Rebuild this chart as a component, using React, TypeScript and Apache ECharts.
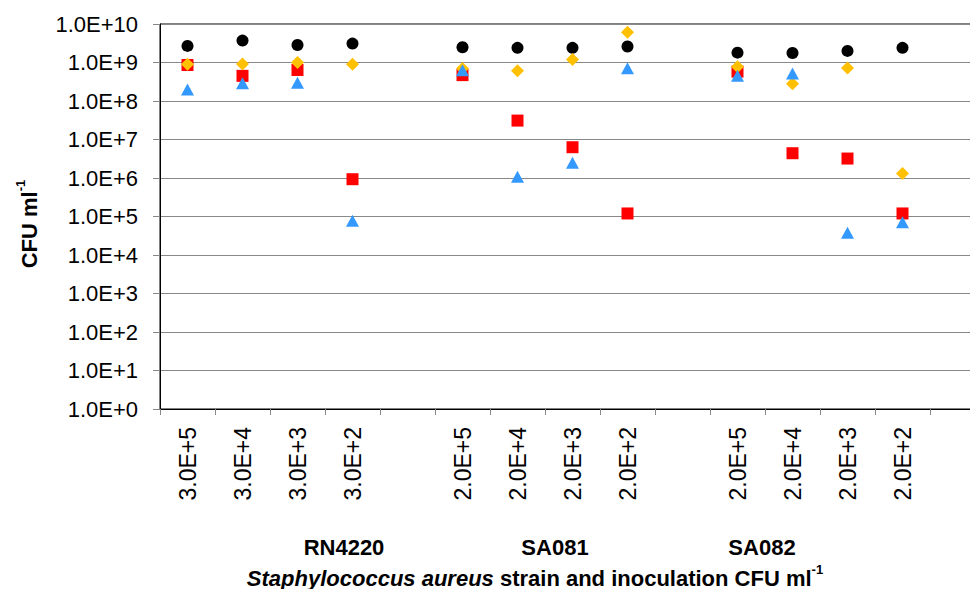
import React, { useEffect, useRef } from "react";
import * as echarts from "echarts";

const categories = ["3.0E+5", "3.0E+4", "3.0E+3", "3.0E+2", "", "2.0E+5", "2.0E+4", "2.0E+3", "2.0E+2", "", "2.0E+5", "2.0E+4", "2.0E+3", "2.0E+2", ""];
const circleValues = [2.7e9, 3.7e9, 2.85e9, 3.1e9, null, 2.5e9, 2.4e9, 2.4e9, 2.6e9, null, 1.8e9, 1.77e9, 2.0e9, 2.4e9, null];
const squareValues = [8.6e8, 4.5e8, 6.4e8, 9.3e5, null, 4.7e8, 3.1e7, 6.3e6, 1.2e5, null, 5.8e8, 4.4e6, 3.2e6, 1.2e5, null];
const diamondValues = [9.0e8, 9.1e8, 1.0e9, 9.0e8, null, 7.0e8, 6.1e8, 1.2e9, 6.1e9, null, 7.8e8, 2.8e8, 7.2e8, 1.3e6, null];
const triangleValues = [2.0e8, 2.9e8, 3.0e8, 7.8e4, null, 6.3e8, 1.07e6, 2.5e6, 7.1e8, null, 4.5e8, 5.2e8, 3.8e4, 7.1e4, null];
const groupLabels = ["RN4220", "SA081", "SA082"];
const groupLabelX = [344, 555, 762];

const FONT = '"Liberation Sans", Arial, sans-serif';

export default function App() {
  const ref = useRef<HTMLDivElement>(null);
  useEffect(() => {
    if (!ref.current) return;
    const chart = echarts.init(ref.current, undefined, { renderer: "svg" });
    const option: any = {
      animation: false,
      backgroundColor: "#fff",
      textStyle: { fontFamily: FONT },
      grid: {
        left: 160,
        top: 24,
        height: 385,
        width: 825,
        show: true,
        borderColor: "#000",
        borderWidth: 1,
        backgroundColor: "transparent",
      },
      xAxis: {
        type: "category",
        data: categories,
        boundaryGap: true,
        axisLine: { lineStyle: { color: "#000", width: 1 } },
        axisTick: { show: true, interval: 0, length: 6, lineStyle: { color: "#888" } },
        axisLabel: {
          interval: 0,
          rotate: 90,
          margin: 18,
          fontSize: 23,
          color: "#000",
          fontFamily: FONT,
        },
        splitLine: { show: false },
      },
      yAxis: {
        type: "log",
        logBase: 10,
        min: 1,
        max: 1e10,
        interval: 1,
        splitNumber: 10,
        axisLine: { show: true, lineStyle: { color: "#000", width: 1 } },
        axisTick: { show: true, length: 7, lineStyle: { color: "#888" } },
        axisLabel: {
          fontSize: 22,
          color: "#000",
          margin: 22,
          fontFamily: FONT,
          formatter: (v: number) => "1.0E+" + Math.round(Math.log10(v)),
        },
        splitLine: { show: true, lineStyle: { color: "#888", width: 1 } },
        minorTick: { show: false },
      },
      graphic: [
        {
          type: "text",
          x: 27,
          y: 224,
          rotation: Math.PI / 2,
          style: {
            text: "{b|CFU ml}{s|-1}",
            align: "center",
            verticalAlign: "middle",
            fill: "#000",
            rich: {
              b: { fontSize: 22, fontWeight: "bold", fontFamily: FONT, fill: "#000", lineHeight: 26, verticalAlign: "bottom" },
              s: { fontSize: 13, fontWeight: "bold", fontFamily: FONT, fill: "#000", lineHeight: 13, verticalAlign: "top" },
            },
          },
        },
        ...groupLabels.map((t, i) => ({
          type: "text",
          x: groupLabelX[i],
          y: 547,
          style: {
            text: t,
            fontSize: 22,
            fontWeight: "bold",
            fontFamily: FONT,
            fill: "#000",
            align: "center",
            verticalAlign: "middle",
          },
        })),
        {
          type: "text",
          x: 535,
          y: 576,
          style: {
            text: "{i|Staphylococcus aureus}{n| strain and inoculation CFU ml}{s|-1}",
            align: "center",
            verticalAlign: "middle",
            fill: "#000",
            rich: {
              i: { fontSize: 22, fontWeight: "bold", fontStyle: "italic", fontFamily: FONT, fill: "#000", lineHeight: 26, verticalAlign: "bottom" },
              n: { fontSize: 22, fontWeight: "bold", fontFamily: FONT, fill: "#000", lineHeight: 26, verticalAlign: "bottom" },
              s: { fontSize: 13, fontWeight: "bold", fontFamily: FONT, fill: "#000", lineHeight: 13, verticalAlign: "top" },
            },
          },
        },
      ],
      series: [
        { name: "circle", type: "scatter", data: circleValues, symbol: "circle", symbolSize: 12, itemStyle: { color: "#000", opacity: 1 } },
        { name: "square", type: "scatter", data: squareValues, symbol: "rect", symbolSize: 12, itemStyle: { color: "#FF0000", opacity: 1 } },
        { name: "diamond", type: "scatter", data: diamondValues, symbol: "diamond", symbolSize: 13, itemStyle: { color: "#FFC000", opacity: 1 } },
        { name: "triangle", type: "scatter", data: triangleValues, symbol: "triangle", symbolSize: [13, 12], itemStyle: { color: "#3399FF", opacity: 1 } },
      ],
    };
    chart.setOption(option);
    return () => chart.dispose();
  }, []);
  return (
    <div style={{ position: "absolute", left: 0, top: 0, width: 970, height: 589, overflow: "hidden" }}>
      <div ref={ref} style={{ width: 1000, height: 589 }} />
    </div>
  );
}
